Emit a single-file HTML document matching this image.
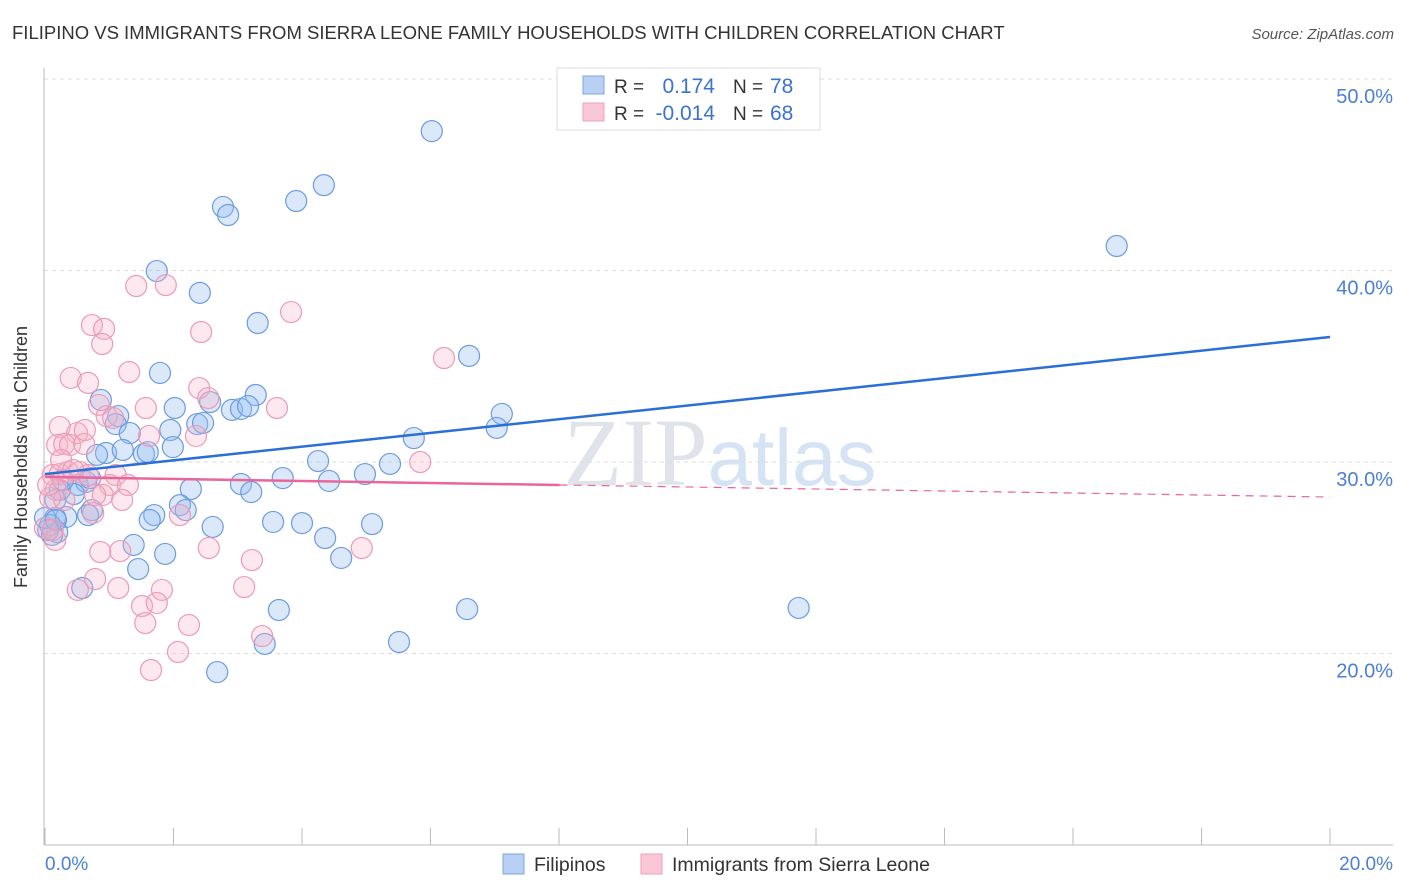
<!DOCTYPE html>
<html><head><meta charset="utf-8"><style>
body{margin:0;background:#fff;font-family:"Liberation Sans",sans-serif;}
svg{display:block}
</style></head><body>
<svg id="chart" width="1406" height="892" xmlns="http://www.w3.org/2000/svg">
<text x="12" y="39" font-size="18.5" fill="#333">FILIPINO VS IMMIGRANTS FROM SIERRA LEONE FAMILY HOUSEHOLDS WITH CHILDREN CORRELATION CHART</text>
<text x="1394" y="39" font-size="15" fill="#555" font-style="italic" text-anchor="end">Source: ZipAtlas.com</text>
<text x="720" y="485" font-size="96" fill="#e0e4ea" text-anchor="middle" font-family="Liberation Serif,serif">ZIP<tspan fill="#d6e3f5" font-family="Liberation Sans,sans-serif" font-size="80">atlas</tspan></text>
<g id="grid"></g>
<line x1="44" y1="68" x2="44" y2="845" stroke="#bbb"/>
<line x1="44" y1="845" x2="1393" y2="845" stroke="#bbb"/>
<g id="ticks"></g>
<g id="pts"></g>
<g id="trends"></g>
<text x="27" y="457" font-size="18" fill="#333" text-anchor="middle" transform="rotate(-90 27 457)">Family Households with Children</text>
<text x="45" y="870" font-size="19" fill="#4a7fd4">0.0%</text>
<text x="1393" y="870" font-size="19" fill="#4a7fd4" text-anchor="end">20.0%</text>
<g>
<rect x="557" y="68" width="263" height="62" fill="#fff" stroke="#ddd"/>
<rect x="583" y="76" width="21" height="18" fill="#b7d0f3" stroke="#7ea6e2"/>
<rect x="583" y="103" width="21" height="18" fill="#f9c7d6" stroke="#ee9fb8"/>
<text x="614" y="93" font-size="19" fill="#333">R = </text><text x="715" y="93" font-size="21" fill="#3b73d0" text-anchor="end">0.174</text>
<text x="733" y="93" font-size="19" fill="#333">N = </text><text x="770" y="93" font-size="21" fill="#3b73d0">78</text>
<text x="614" y="120" font-size="19" fill="#333">R = </text><text x="715" y="120" font-size="21" fill="#3b73d0" text-anchor="end">-0.014</text>
<text x="733" y="120" font-size="19" fill="#333">N = </text><text x="770" y="120" font-size="21" fill="#3b73d0">68</text>
</g>
<g>
<rect x="503" y="854" width="21" height="20" fill="#b7d0f3" stroke="#7ea6e2"/>
<text x="534" y="871" font-size="19.5" fill="#333">Filipinos</text>
<rect x="641" y="854" width="21" height="20" fill="#f9c7d6" stroke="#ee9fb8"/>
<text x="672" y="871" font-size="19.5" fill="#333">Immigrants from Sierra Leone</text>
</g>
</svg>
<script>
const yTicks=[20,30,40,50];
const yTickLabels=["20.0%","30.0%","40.0%","50.0%"];
const xTicks=[0,2,4,6,8,10,12,14,16,18,20];
const blueX=[6.02,4.34,3.91,2.77,2.85,16.68,1.74,2.41,3.31,6.60,1.79,0.87,3.28,2.57,2.91,3.05,3.16,2.02,7.11,1.14,1.10,1.32,1.95,2.37,2.46,5.74,7.03,1.99,0.95,0.81,1.21,1.54,1.60,4.25,5.37,4.98,3.70,4.42,3.05,2.27,3.21,0.51,0.64,0.45,2.10,2.19,0.73,0.33,1.70,1.63,0.16,2.61,5.09,3.55,4.00,4.36,0.19,1.38,1.87,4.61,1.45,0.58,3.64,6.57,11.73,5.51,3.42,2.68,0.08,0.05,0.11,0.23,0.16,0.0,0.28,0.70,0.67,0.17];
const blueY=[47.28,44.46,43.63,43.32,42.90,41.28,39.97,38.83,37.26,35.54,34.65,33.24,33.50,33.13,32.72,32.77,32.92,32.82,32.51,32.40,31.98,31.51,31.67,31.98,32.04,31.25,31.78,30.78,30.47,30.37,30.63,30.42,30.52,30.05,29.90,29.37,29.16,29.01,28.85,28.59,28.43,28.80,28.96,28.33,27.75,27.49,27.49,27.13,27.23,26.97,27.08,26.61,26.76,26.87,26.81,26.03,26.34,25.67,25.20,24.99,24.41,23.42,22.27,22.32,22.38,20.60,20.50,19.03,26.71,26.45,26.19,28.54,28.02,27.08,29.06,29.16,27.23,26.97];
const pinkX=[1.42,1.88,3.83,0.73,0.92,2.43,0.89,6.21,1.31,0.40,0.67,2.40,2.54,0.84,1.57,3.61,0.96,1.06,0.23,0.50,1.62,2.35,0.19,0.30,0.39,0.61,5.84,0.12,0.23,0.36,0.54,0.67,1.10,1.01,1.29,0.90,1.20,0.17,0.78,2.10,0.75,0.30,0.08,0.0,0.16,2.55,3.22,4.93,0.86,1.17,0.78,1.82,3.10,1.14,1.51,1.74,1.56,2.24,3.38,2.07,1.65,0.51,0.05,0.12,0.25,0.44,0.62];
const pinkY=[39.19,39.24,37.83,37.15,36.95,36.79,36.16,35.43,34.70,34.39,34.13,33.86,33.34,32.98,32.82,32.82,32.40,32.30,31.83,31.51,31.36,31.36,30.89,30.94,30.89,30.94,30.0,29.32,29.37,29.48,29.48,29.32,29.32,28.80,28.80,28.28,28.02,28.54,28.28,27.23,27.34,28.02,28.12,26.55,25.93,25.51,24.88,25.51,25.30,25.35,23.89,23.32,23.47,23.42,22.48,22.64,21.59,21.49,20.91,20.08,19.14,23.32,28.80,26.45,30.10,29.58,31.67];
const blueTrend=[29.37,36.53];
const pinkTrend=[29.22,28.17];
const pinkSolidEnd=8.01;
const NS="http://www.w3.org/2000/svg";
const sx=v=>45+v/20*1285;
const sy=v=>462-(v-30)*19.15;
function mk(tag,parent,attrs){const e=document.createElementNS(NS,tag);for(const k in attrs)e.setAttribute(k,attrs[k]);document.getElementById(parent).appendChild(e);return e;}
yTicks.forEach((t,i)=>{
  const l=mk('line','grid',{x1:44,x2:1393,y1:sy(t),y2:sy(t),stroke:'#ddd','stroke-dasharray':'4,4'});
  
  
  const tx=mk('text','grid',{x:1393,y:sy(t)+24,'font-size':20,fill:'#4a7fd4','text-anchor':'end'});
  tx.textContent=yTickLabels[i];
  
  
});
xTicks.forEach(t=>{
  const l=mk('line','ticks',{x1:sx(t),x2:sx(t),y1:828,y2:845,stroke:'#bbb'});
  
  
});
blueX.forEach((x,i)=>{
  const c=mk('circle','pts',{cx:sx(x),cy:sy(blueY[i]),r:10.5,fill:'rgba(150,190,240,0.35)',stroke:'#6b9be0','stroke-width':1.2});
  
  
});
pinkX.forEach((x,i)=>{
  const c=mk('circle','pts',{cx:sx(x),cy:sy(pinkY[i]),r:10.5,fill:'rgba(245,180,200,0.3)',stroke:'#ec9ab5','stroke-width':1.2});
  
  
});
const bt=mk('line','trends',{x1:sx(0),y1:sy(blueTrend[0]),x2:sx(20),y2:sy(blueTrend[1]),stroke:'#2a6fd6','stroke-width':2.5});


const pm=pinkTrend[0]+(pinkTrend[1]-pinkTrend[0])*pinkSolidEnd/20;
const pt=mk('line','trends',{x1:sx(0),y1:sy(pinkTrend[0]),x2:sx(pinkSolidEnd),y2:sy(pm),stroke:'#e8669a','stroke-width':2.5});


const pd=mk('line','trends',{x1:sx(pinkSolidEnd),y1:sy(pm),x2:sx(20),y2:sy(pinkTrend[1]),stroke:'#e8669a','stroke-width':1.2,'stroke-dasharray':'8,6'});


</script>
</body></html>
